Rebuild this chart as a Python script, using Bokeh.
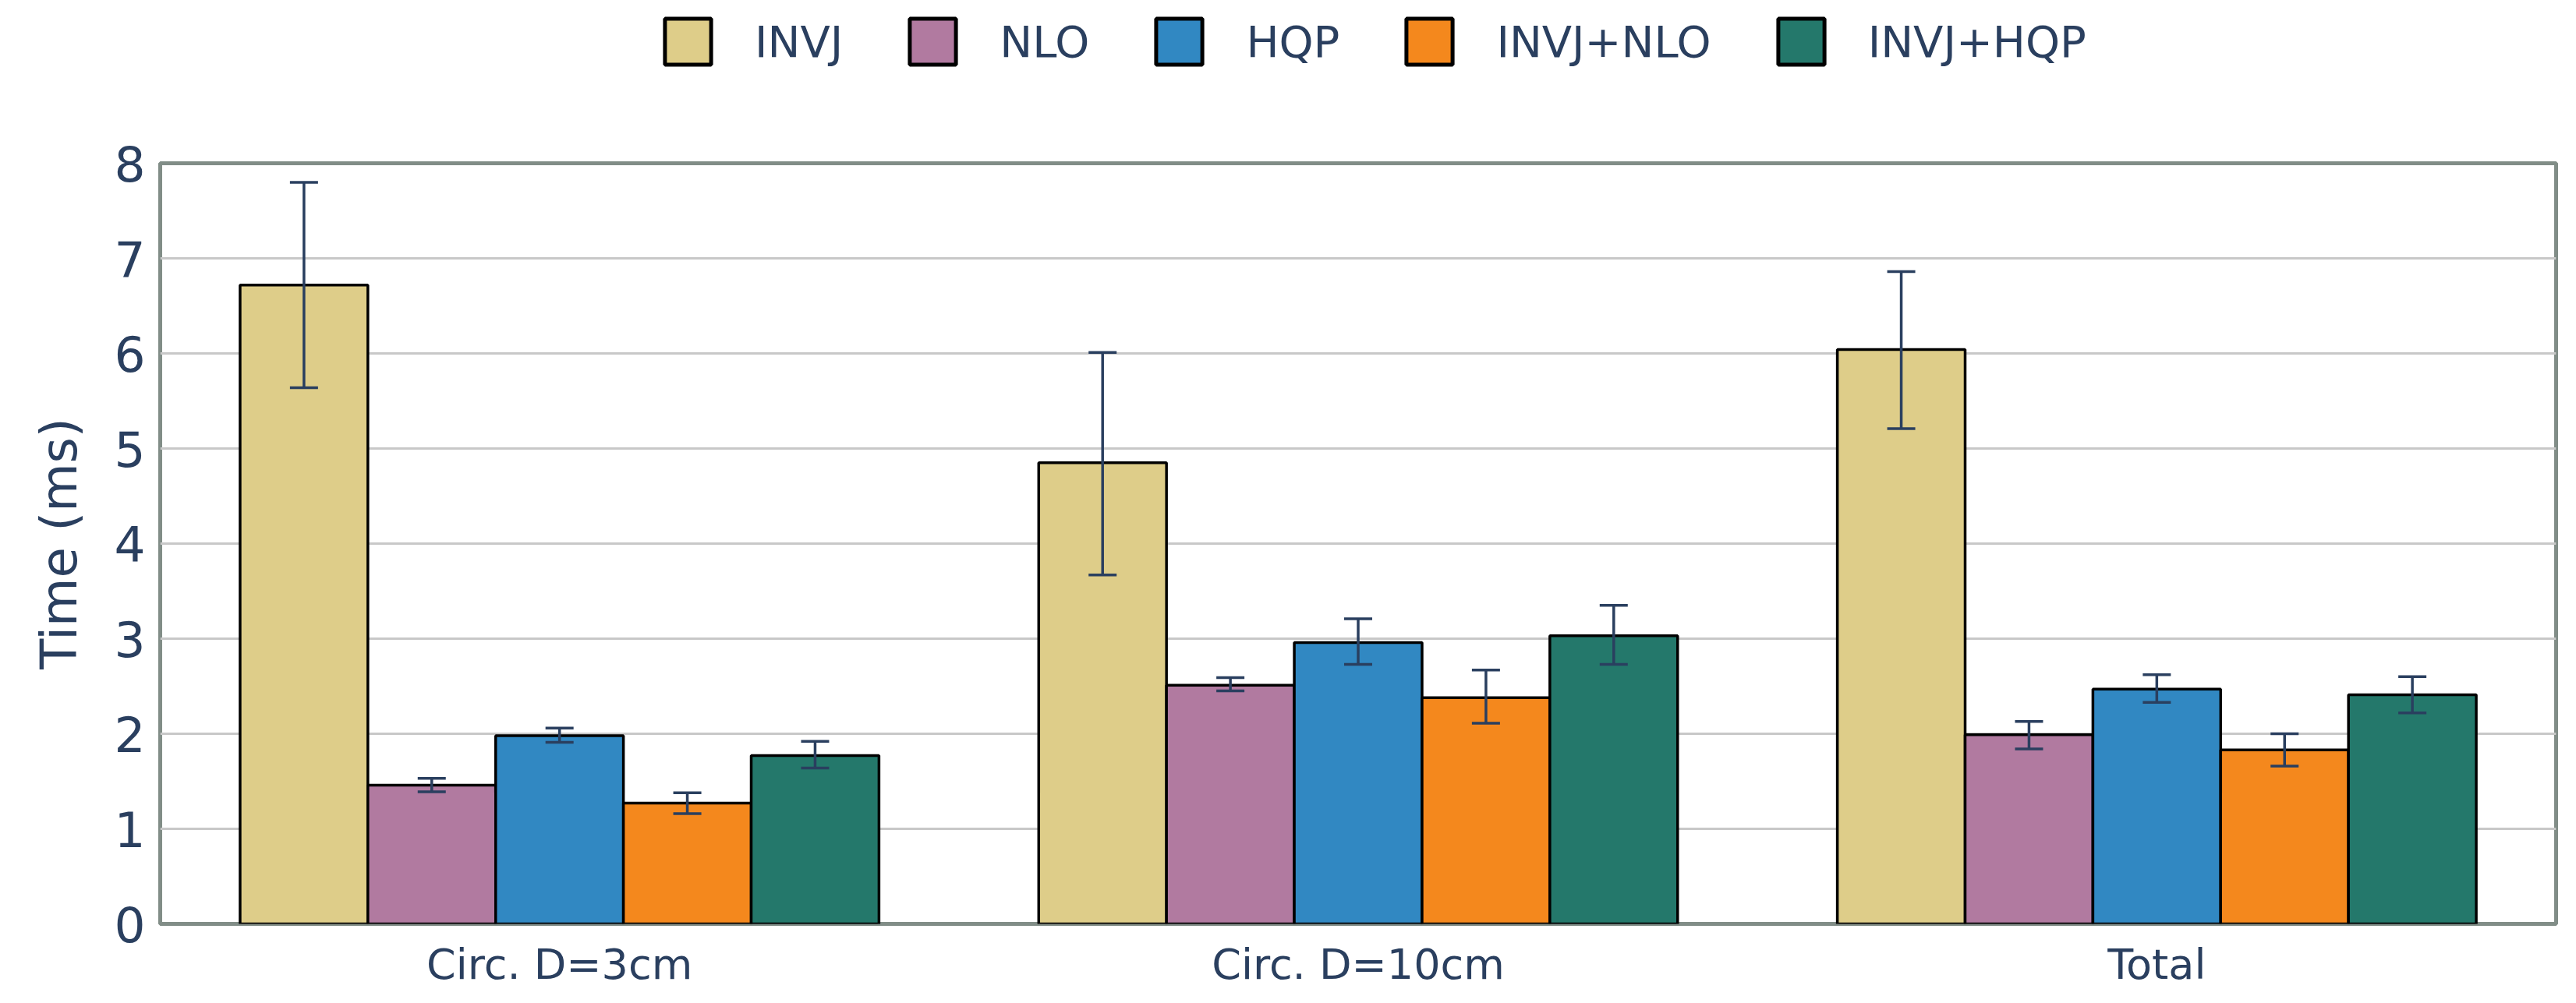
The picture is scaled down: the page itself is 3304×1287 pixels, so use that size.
from bokeh.plotting import figure
from bokeh.layouts import column
from bokeh.models import (ColumnDataSource, FactorRange, Range1d, Legend, LegendItem,
                          Whisker, TeeHead, FixedTicker)
from bokeh.transform import dodge
from bokeh.embed import file_html
from bokeh.resources import INLINE

categories = ["Circ. D=3cm", "Circ. D=10cm", "Total"]
series = ["INVJ", "NLO", "HQP", "INVJ+NLO", "INVJ+HQP"]
colors = ["#DECD89", "#B17AA0", "#3188C2", "#F4881D", "#24786B"]

invj = [6.72, 4.85, 6.04]
invj_lo = [5.64, 3.67, 5.21]
invj_hi = [7.80, 6.01, 6.86]
nlo = [1.46, 2.51, 1.99]
nlo_lo = [1.39, 2.45, 1.84]
nlo_hi = [1.53, 2.59, 2.13]
hqp = [1.98, 2.96, 2.47]
hqp_lo = [1.91, 2.73, 2.33]
hqp_hi = [2.06, 3.21, 2.62]
invj_nlo = [1.27, 2.38, 1.83]
invj_nlo_lo = [1.16, 2.11, 1.66]
invj_nlo_hi = [1.38, 2.67, 2.00]
invj_hqp = [1.77, 3.03, 2.41]
invj_hqp_lo = [1.64, 2.73, 2.22]
invj_hqp_hi = [1.92, 3.35, 2.60]
y_ticks = [0, 1, 2, 3, 4, 5, 6, 7, 8]

values = [invj, nlo, hqp, invj_nlo, invj_hqp]
lows = [invj_lo, nlo_lo, hqp_lo, invj_nlo_lo, invj_hqp_lo]
highs = [invj_hi, nlo_hi, hqp_hi, invj_nlo_hi, invj_hqp_hi]

TEXT = "#2a3f5f"
FONT = "DejaVu Sans"
W = 3288
TOP_H = 108

# ---- legend strip ----
lg = figure(width=W, height=TOP_H, x_range=Range1d(0, 1), y_range=Range1d(0, 1),
            x_axis_type=None, y_axis_type=None, output_backend="svg",
            toolbar_location=None, min_border=0)
lg.outline_line_color = None
lg.xgrid.visible = False
lg.ygrid.visible = False

nan = float("nan")
items = []
for i in range(5):
    # proxy bar with no drawable data: only its legend swatch shows
    d = lg.vbar(x="x", top="top", width=0.1,
                source=ColumnDataSource(dict(x=[nan], top=[nan])),
                fill_color=colors[i], line_color="black", line_width=5)
    items.append(LegendItem(label=series[i], renderers=[d]))

legend = Legend(items=items, orientation="horizontal", location=(640, 18),
                padding=0, margin=0, spacing=78,
                glyph_width=74, glyph_height=74, label_standoff=49,
                label_text_font=FONT, label_text_font_size="56px",
                label_text_color=TEXT, border_line_color=None,
                background_fill_alpha=0)
lg.add_layout(legend)

# ---- main chart ----
p = figure(x_range=FactorRange(factors=categories, range_padding=0),
           y_range=Range1d(0, 8),
           width=W, height=1271 - TOP_H,
           output_backend="svg", toolbar_location=None,
           min_border_left=205, min_border_right=10,
           min_border_top=101, min_border_bottom=75)

p.outline_line_color = "#818D87"
p.outline_line_width = 5
p.outline_line_alpha = 1.0
p.background_fill_color = "white"
p.border_fill_color = "white"

bar_w = 0.16
offsets = [-0.32, -0.16, 0.0, 0.16, 0.32]

src = ColumnDataSource(dict(
    cat=categories,
    **{f"v{i}": values[i] for i in range(5)},
    **{f"lo{i}": lows[i] for i in range(5)},
    **{f"hi{i}": highs[i] for i in range(5)},
))

for i in range(5):
    p.vbar(x=dodge("cat", offsets[i], range=p.x_range), top=f"v{i}", width=bar_w,
           source=src, fill_color=colors[i], line_color="black", line_width=3.5)

for i in range(5):
    w = Whisker(source=src, base=dodge("cat", offsets[i], range=p.x_range),
                upper=f"hi{i}", lower=f"lo{i}", line_color=TEXT, line_width=3.5,
                level="overlay",
                upper_head=TeeHead(size=36, line_color=TEXT, line_width=3.5),
                lower_head=TeeHead(size=36, line_color=TEXT, line_width=3.5))
    p.add_layout(w)

p.xaxis.axis_line_color = None
p.xaxis.major_tick_line_color = None
p.xaxis.minor_tick_line_color = None
p.xaxis.major_label_text_font = FONT
p.xaxis.major_label_text_font_size = "54px"
p.xaxis.major_label_text_color = TEXT
p.xaxis.major_label_standoff = 14

p.yaxis.ticker = FixedTicker(ticks=y_ticks)
p.yaxis.axis_line_color = None
p.yaxis.major_tick_line_color = None
p.yaxis.minor_tick_line_color = None
p.yaxis.major_label_text_font = FONT
p.yaxis.major_label_text_font_size = "63px"
p.yaxis.major_label_text_color = TEXT
p.yaxis.major_label_standoff = 13
p.yaxis.axis_label = "Time (ms)"
p.yaxis.axis_label_text_font = FONT
p.yaxis.axis_label_text_font_size = "64px"
p.yaxis.axis_label_text_font_style = "normal"
p.yaxis.axis_label_text_color = TEXT
p.yaxis.axis_label_standoff = 30

p.xgrid.grid_line_color = None
p.ygrid.grid_line_color = "#c8c8c8"
p.ygrid.grid_line_width = 3

layout = column(lg, p, spacing=0)
open("out.html", "w").write(file_html(layout, INLINE))
